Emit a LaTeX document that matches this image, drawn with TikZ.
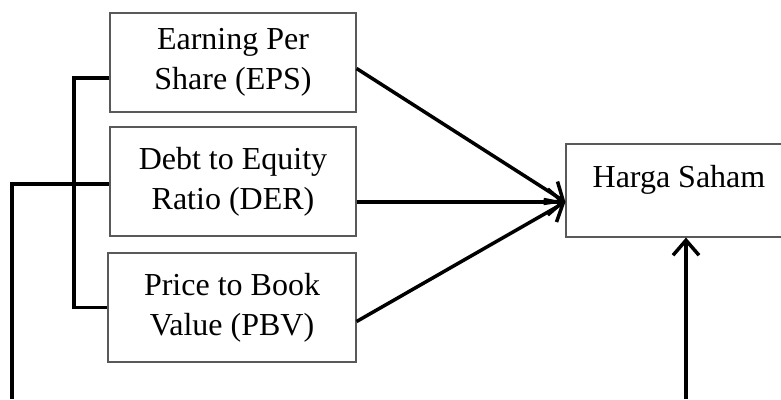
\documentclass[tikz,border=0pt]{standalone}
\usepackage{fontspec}
\setmainfont{Liberation Serif}
\usetikzlibrary{arrows.meta}

\begin{document}
\begin{tikzpicture}[x=1pt,y=1pt,
	varbox/.style={draw=black!65,line width=1.2pt,align=center,inner sep=0pt,font=\fontsize{32}{40}\selectfont},
	link/.style={line width=3.5pt},
	arr/.style={line width=3.5pt,-{Straight Barb[length=15pt,width=26pt]}}]
		\useasboundingbox (0,0) rectangle (781,399);
		\node[varbox,minimum width=246pt,minimum height=99pt] (eps) at (233,336.5) {Earning Per\\Share (EPS)};
		\node[varbox,minimum width=246pt,minimum height=109pt] (der) at (233,217.5) {Debt to Equity\\Ratio (DER)};
		\node[varbox,minimum width=248pt,minimum height=109pt] (pbv) at (232,91.5) {Price to Book\\Value (PBV)};
		\node[varbox,minimum width=226pt,minimum height=93pt,text height=22pt,text depth=27pt] (harga) at (679,208.5) {Harga Saham};
		\coordinate (hin) at ([yshift=-11.5pt]harga.west);
		\coordinate (low) at (12,0);
		\coordinate (base) at (686,0);
		\draw[arr] ([yshift=-6pt]eps.east) -- (hin);
		\draw[arr] (der.east |- hin) -- (hin);
		\draw[arr] ([yshift=-14pt]pbv.east) -- (hin);
		\draw[arr] (base) -- (base |- harga.south);
		\draw[link] ([yshift=-15.5pt]eps.west) -| (74,215) |- (pbv.west);
		\draw[link] (low) |- ([yshift=-2.5pt]der.west);
	\end{tikzpicture}
\end{document}
